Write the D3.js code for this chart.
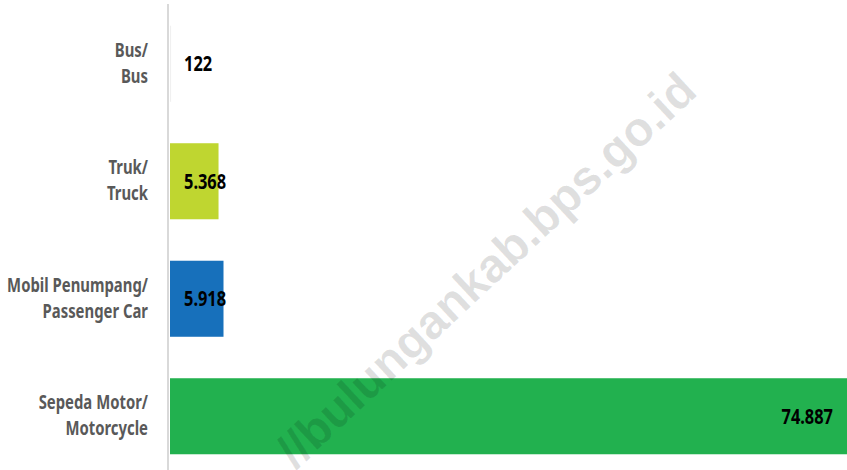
<!DOCTYPE html>
<html>
<head>
<meta charset="utf-8">
<script src="https://cdn.jsdelivr.net/npm/d3@7"></script>
<style>
  body { margin: 0; background: #fff; }
  svg { display: block; }
  .cat { font-family: "Noto Sans", "DejaVu Sans", sans-serif; font-weight: bold; }
</style>
</head>
<body>
<svg id="chart"></svg>
<script>
const SIZE = { width: 847, height: 470 }
const MARGIN = { left: 170, right: 0, top: 5, bottom: -5 }

const categories = ["Bus/\nBus", "Truk/\nTruck", "Mobil Penumpang/\nPassenger Car", "Sepeda Motor/\nMotorcycle"]
const values = [122, 5368, 5918, 74887]
const valueLabels = ["122", "5.368", "5.918", "74.887"]
const colors = ["#f0f0f0", "#bfd630", "#1770bb", "#22b14f"]
const watermark = "//bulungankab.bps.go.id"

const svg = d3.select("svg#chart").attr("width", SIZE.width).attr("height", SIZE.height)

const xScale = d3.scaleLinear()
  .domain([0, d3.max(values)])
  .range([MARGIN.left, SIZE.width - MARGIN.right])
const yScale = d3.scaleBand()
  .domain(categories)
  .range([MARGIN.top, SIZE.height - MARGIN.bottom])
  .paddingInner(0.353)
  .paddingOuter(0.1765)

const rows = categories.map((c, i) => ({ cat: c, value: values[i], label: valueLabels[i], color: colors[i] }))

// narrow fonts are not installed, so squeeze a normal bold face horizontally
const probe = svg.append("text").attr("class", "cat").attr("font-size", 19.5).text("Mobil Penumpang/")
const SQUEEZE = 141 / probe.node().getComputedTextLength()
probe.remove()

// bars
svg.append("g").selectAll("rect").data(rows).enter().append("rect")
  .attr("x", xScale(0))
  .attr("y", d => yScale(d.cat))
  .attr("width", d => xScale(d.value) - xScale(0))
  .attr("height", yScale.bandwidth())
  .attr("fill", d => d.color)

// vertical axis line
svg.append("line")
  .attr("x1", MARGIN.left - 2).attr("x2", MARGIN.left - 2)
  .attr("y1", 4).attr("y2", SIZE.height)
  .attr("stroke", "#d9d9d9").attr("stroke-width", 2)

// category labels, two lines each
rows.forEach(d => {
  const cy = yScale(d.cat) + yScale.bandwidth() / 2
  d.cat.split("\n").forEach((line, j) => {
    svg.append("text")
      .attr("class", "cat")
      .attr("text-anchor", "end")
      .attr("font-size", 19.5)
      .attr("fill", "#595959")
      .attr("transform", `translate(148,${cy + (j === 0 ? -7 : 19)}) scale(${SQUEEZE},1)`)
      .text(line)
  })
})

// value labels
svg.append("g").selectAll("text").data(rows).enter().append("text")
  .attr("class", "cat")
  .attr("font-size", 21.5)
  .attr("fill", "#000")
  .each(function(d){
    const w = xScale(d.value) - xScale(0)
    const cy = yScale(d.cat) + yScale.bandwidth() / 2 + 7.5
    const t = d3.select(this).text(d.label)
    if(w > 200){
      t.attr("text-anchor", "end").attr("transform", `translate(${xScale(d.value) - 14},${cy}) scale(${SQUEEZE},1)`)
    } else {
      t.attr("text-anchor", "start").attr("transform", `translate(${xScale(0) + 14},${cy}) scale(${SQUEEZE},1)`)
    }
  })

// watermark
svg.append("text")
  .attr("transform", "translate(486,270) rotate(-43)")
  .attr("text-anchor", "middle")
  .attr("dominant-baseline", "central")
  .attr("font-family", "Liberation Sans, Arial, sans-serif")
  .attr("font-weight", "bold")
  .attr("font-size", 48)
  .attr("fill", "#000")
  .attr("fill-opacity", 0.12)
  .text(watermark)
</script>
</body>
</html>
